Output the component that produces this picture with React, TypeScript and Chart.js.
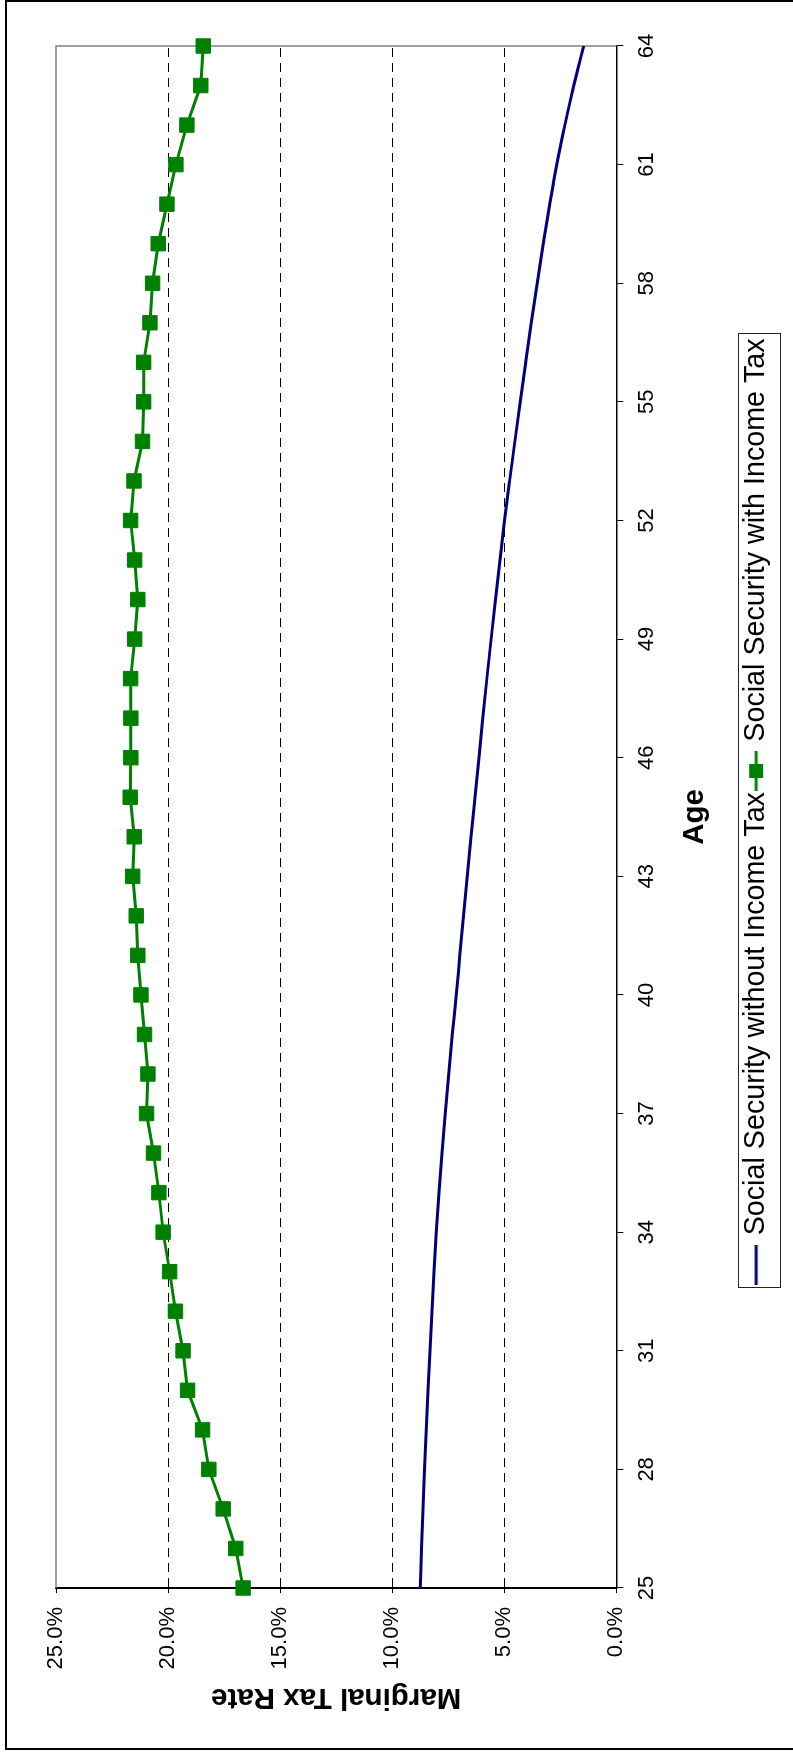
import React, { useEffect, useRef } from 'react';
import { Chart, registerables } from 'chart.js';

Chart.register(...registerables);

// ---- data (percent) ----
const ages = [25, 26, 27, 28, 29, 30, 31, 32, 33, 34, 35, 36, 37, 38, 39, 40, 41, 42, 43, 44, 45, 46, 47, 48, 49, 50, 51, 52, 53, 54, 55, 56, 57, 58, 59, 60, 61, 62, 63, 64];
const withoutIncomeTax = [8.75, 8.69, 8.625, 8.555, 8.48, 8.40, 8.315, 8.225, 8.13, 8.03, 7.91, 7.78, 7.635, 7.48, 7.315, 7.14, 6.98, 6.815, 6.65, 6.48, 6.305, 6.13, 5.955, 5.775, 5.585, 5.39, 5.19, 4.985, 4.76, 4.525, 4.285, 4.04, 3.79, 3.53, 3.255, 2.965, 2.655, 2.295, 1.895, 1.455];
const withIncomeTax = [16.65, 16.98, 17.54, 18.18, 18.46, 19.13, 19.33, 19.67, 19.93, 20.22, 20.41, 20.65, 20.96, 20.90, 21.05, 21.21, 21.35, 21.42, 21.58, 21.51, 21.69, 21.66, 21.66, 21.67, 21.49, 21.35, 21.49, 21.67, 21.52, 21.14, 21.09, 21.09, 20.81, 20.69, 20.44, 20.05, 19.65, 19.16, 18.54, 18.43];
const seriesNames = ['Social Security without Income Tax', 'Social Security with Income Tax'];
const xTitle = 'Age';
const yTitle = 'Marginal Tax Rate';
const yMin = 0;
const yMax = 25;
const yStep = 5;
const xStep = 3;

const W = 1754;
const H = 793;
const FONT = "'Liberation Sans', Arial, Helvetica, sans-serif";
const BLUE = '#000080';
const GREEN = '#008000';

function makeSample(kind: 'line' | 'marker'): HTMLCanvasElement {
  const c = document.createElement('canvas');
  c.width = 40;
  c.height = 16;
  const g = c.getContext('2d')!;
  g.strokeStyle = kind === 'line' ? BLUE : GREEN;
  g.lineWidth = 3;
  g.beginPath();
  g.moveTo(0, 8);
  g.lineTo(40, 8);
  g.stroke();
  if (kind === 'marker') {
    g.fillStyle = GREEN;
    g.fillRect(13, 1, 14, 14);
  }
  return c;
}

const decorPlugin = {
  id: 'decor',
  afterLayout(chart: any) {
    const lg = chart.legend;
    if (lg) {
      lg.left += 8;
      lg.right += 8;
    }
  },
  beforeDatasetsDraw(chart: any) {
    const { ctx, chartArea: a } = chart;
    ctx.save();
    ctx.strokeStyle = '#808080';
    ctx.lineWidth = 1.5;
    ctx.beginPath();
    ctx.moveTo(a.left, a.top);
    ctx.lineTo(a.right, a.top);
    ctx.lineTo(a.right, a.bottom);
    ctx.stroke();
    ctx.restore();
  },
  afterDraw(chart: any) {
    const { ctx } = chart;
    ctx.save();
    // outer frame
    ctx.strokeStyle = '#000';
    ctx.lineWidth = 2;
    ctx.strokeRect(5, 6, 1748, 900);
    // legend box
    const hb = chart.legend && chart.legend.legendHitBoxes;
    if (hb && hb.length) {
      const left = Math.min(...hb.map((b: any) => b.left)) - 8;
      const right = Math.max(...hb.map((b: any) => b.left + b.width)) + 5;
      const mid = hb[0].top + hb[0].height / 2 + 2.5;
      ctx.strokeStyle = '#222';
      ctx.lineWidth = 1;
      ctx.strokeRect(Math.round(left) + 0.5, Math.round(mid - 21) + 0.5, Math.round(right - left), 42);
    }
    ctx.restore();
  },
};

export default function App() {
  const ref = useRef<HTMLCanvasElement | null>(null);

  useEffect(() => {
    document.body.style.overflow = 'hidden';
    const canvas = ref.current!;
    const samples = [makeSample('line'), makeSample('marker')];
    const chart = new Chart(canvas, {
      type: 'line',
      data: {
        datasets: [
          {
            label: seriesNames[0],
            data: ages.map((a, i) => ({ x: a, y: withoutIncomeTax[i] })),
            borderColor: BLUE,
            backgroundColor: BLUE,
            borderWidth: 3,
            pointRadius: 0,
            cubicInterpolationMode: 'monotone',
            fill: false,
          },
          {
            label: seriesNames[1],
            data: ages.map((a, i) => ({ x: a, y: withIncomeTax[i] })),
            borderColor: GREEN,
            backgroundColor: GREEN,
            borderWidth: 3,
            pointStyle: 'rect',
            pointRadius: 10.2,
            pointBorderWidth: 1,
            pointBackgroundColor: GREEN,
            pointBorderColor: GREEN,
            tension: 0,
            fill: false,
            clip: false,
          },
        ],
      } as any,
      plugins: [decorPlugin],
      options: {
        responsive: false,
        maintainAspectRatio: false,
        animation: false,
        devicePixelRatio: 1,
        events: [],
        layout: { padding: { top: 56, right: 46, left: 35, bottom: 12.5 } },
        plugins: {
          tooltip: { enabled: false },
          title: { display: false },
          legend: {
            display: true,
            position: 'bottom',
            fullSize: false,
            labels: {
              usePointStyle: true,
              pointStyleWidth: 30,
              padding: 6,
              color: '#000',
              font: { family: FONT, size: 28.7 },
              generateLabels: () =>
                seriesNames.map((name, i) => ({
                  text: name,
                  pointStyle: samples[i],
                  fillStyle: i === 0 ? BLUE : GREEN,
                  strokeStyle: i === 0 ? BLUE : GREEN,
                  lineWidth: 0,
                  hidden: false,
                  datasetIndex: i,
                  fontColor: '#000',
                })),
            },
          },
        },
        scales: {
          x: {
            type: 'linear',
            min: ages[0],
            max: ages[ages.length - 1],
            afterFit: (s: any) => {
              s.height = 119.5;
            },
            ticks: {
              stepSize: xStep,
              autoSkip: false,
              maxRotation: 0,
              padding: 10,
              color: '#000',
              font: { family: FONT, size: 22 },
              callback: (v: any) => String(v),
            },
            grid: {
              display: true,
              drawOnChartArea: false,
              drawTicks: true,
              tickLength: 7,
              tickColor: '#000',
              tickWidth: 1,
            },
            border: { display: true, color: '#000', width: 1.5 },
            title: {
              display: true,
              text: xTitle,
              color: '#000',
              font: { family: FONT, size: 29.5, weight: 'bold' },
              padding: { top: 4, bottom: 23 },
            },
          },
          y: {
            type: 'linear',
            min: yMin,
            max: yMax,
            afterFit: (s: any) => {
              s.width = 131;
            },
            ticks: {
              stepSize: yStep,
              padding: 14,
              color: '#000',
              font: { family: FONT, size: 22 },
              callback: (v: any) => Number(v).toFixed(1) + '%',
            },
            grid: {
              display: true,
              drawOnChartArea: true,
              drawTicks: true,
              tickLength: 5,
              tickColor: '#000',
              tickWidth: 1,
              tickBorderDash: [],
              lineWidth: 1,
              color: (c: any) =>
                c.tick && (c.tick.value === yMin || c.tick.value === yMax) ? 'rgba(0,0,0,0)' : '#000',
            },
            border: { display: true, color: '#000', width: 2, dash: [9, 6] },
            title: {
              display: true,
              text: yTitle,
              color: '#000',
              font: { family: FONT, size: 29.5, weight: 'bold' },
              padding: { top: 4, bottom: 4 },
            },
          },
        },
      } as any,
    });
    return () => chart.destroy();
  }, []);

  return (
    <div
      style={{
        position: 'absolute',
        left: 0,
        top: 0,
        width: W + 'px',
        height: H + 'px',
        transformOrigin: '0 0',
        transform: `translateY(${W}px) rotate(-90deg)`,
      }}
    >
      <canvas ref={ref} width={W} height={H} style={{ display: 'block', width: W + 'px', height: H + 'px' }} />
    </div>
  );
}
